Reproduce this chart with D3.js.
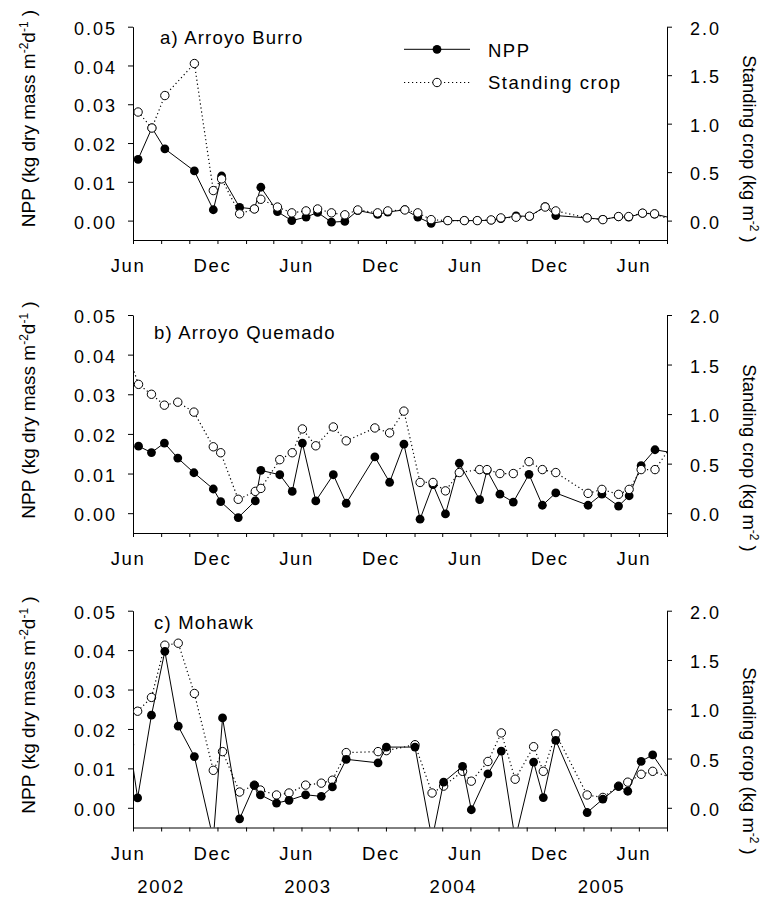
<!DOCTYPE html>
<html><head><meta charset="utf-8">
<script src="https://cdn.jsdelivr.net/npm/d3@7"></script>
<style>
body{margin:0;background:#fff}
svg{display:block}
text{font-family:"Liberation Sans",Arial,Helvetica,sans-serif;fill:#000}
</style>
</head><body>
<svg id="chart" width="770" height="898"></svg>
<script>
// ---------------- DATA ----------------
// a) Arroyo Burro
const datesA = ["2002-06-12","2002-07-12","2002-08-09","2002-10-12","2002-11-22","2002-12-10","2003-01-18","2003-02-19","2003-03-05","2003-04-10","2003-05-11","2003-06-11","2003-07-06","2003-08-05","2003-09-03","2003-10-01","2003-11-13","2003-12-05","2004-01-11","2004-02-08","2004-03-08","2004-04-13","2004-05-19","2004-06-16","2004-07-16","2004-08-06","2004-09-08","2004-10-07","2004-11-10","2004-12-03","2005-02-09","2005-03-15","2005-04-18","2005-05-10","2005-06-09","2005-07-05","2005-08-20"];
const nppA = [0.0158,0.0239,0.0185,0.0128,0.0028,0.0115,0.0034,0.0030,0.0086,0.0023,0.0000,0.0009,0.0021,-0.0004,-0.0002,0.0026,0.0016,0.0022,0.0028,0.0009,-0.0007,0.0000,0.0000,0.0000,0.0001,0.0005,0.0012,0.0011,0.0036,0.0013,0.0007,0.0003,0.0010,0.0009,0.0019,0.0017,0.0004];
const scA = [1.12,0.955,1.29,1.62,0.31,0.43,0.07,0.12,0.22,0.14,0.08,0.10,0.12,0.08,0.06,0.11,0.08,0.10,0.11,0.08,0.01,0.00,0.00,0.00,0.007,0.028,0.035,0.046,0.14,0.10,0.028,0.01,0.042,0.042,0.077,0.07,-0.01];

// b) Arroyo Quemado
const datesB = ["2002-05-20","2002-06-13","2002-07-11","2002-08-08","2002-09-06","2002-10-11","2002-11-22","2002-12-08","2003-01-15","2003-02-21","2003-03-05","2003-04-15","2003-05-12","2003-06-03","2003-07-02","2003-08-09","2003-09-06","2003-11-07","2003-12-09","2004-01-09","2004-02-13","2004-03-12","2004-04-08","2004-05-08","2004-06-21","2004-07-07","2004-08-04","2004-09-02","2004-10-06","2004-11-04","2004-12-03","2005-02-11","2005-03-13","2005-04-18","2005-05-11","2005-06-06","2005-07-06","2005-08-15"];
const nppB = [null,0.0169,0.0153,0.0177,0.0139,0.0102,0.0061,0.0029,-0.0011,0.0031,0.0108,0.0097,0.0055,0.0177,0.0031,0.0097,0.0025,0.0142,0.0078,0.0174,-0.0015,0.0072,-0.0002,0.0126,0.0034,0.0108,0.0048,0.0028,0.0098,0.0020,0.0051,0.0020,0.0048,0.0018,0.0044,0.0120,0.0160,0.0152];
const scB = [1.62,1.30,1.20,1.09,1.12,1.02,0.67,0.61,0.14,0.22,0.25,0.54,0.61,0.85,0.68,0.87,0.73,0.86,0.81,1.03,0.31,0.31,0.225,0.41,0.44,0.44,0.40,0.40,0.52,0.44,0.41,0.20,0.24,0.19,0.24,0.44,0.44,0.71];

// c) Mohawk
const datesC = ["2002-05-25","2002-06-11","2002-07-11","2002-08-09","2002-09-07","2002-10-12","2002-11-22","2002-12-12","2003-01-18","2003-02-19","2003-03-04","2003-04-08","2003-05-05","2003-06-10","2003-07-14","2003-08-07","2003-09-06","2003-11-14","2003-12-02","2004-02-02","2004-03-10","2004-04-04","2004-05-15","2004-06-03","2004-07-09","2004-08-07","2004-09-06","2004-10-16","2004-11-06","2004-12-03","2005-02-09","2005-03-15","2005-04-18","2005-05-08","2005-06-06","2005-07-01","2005-08-15"];
const nppC = [0.016,0.0025,0.0235,0.0397,0.0207,0.0130,-0.008,0.0228,-0.0028,0.0057,0.0033,0.0012,0.0019,0.0033,0.0029,0.0053,0.0123,0.0114,0.0154,0.0154,-0.008,0.0065,0.0105,-0.0005,0.0086,0.0144,-0.008,0.0116,0.0026,0.0171,-0.0012,0.0022,0.0054,0.0042,0.0118,0.0134,0.0057];
const scC = [null,0.98,1.12,1.65,1.67,1.16,0.38,0.57,0.16,0.23,0.18,0.13,0.15,0.23,0.25,0.28,0.56,0.57,0.58,0.64,0.15,0.22,0.37,0.27,0.47,0.76,0.29,0.62,0.37,0.75,0.13,0.105,0.22,0.26,0.34,0.37,0.30];

const panelNames = ["a) Arroyo Burro","b) Arroyo Quemado","c) Mohawk"];
const nppTicks = [0,0.01,0.02,0.03,0.04,0.05];
const scTicks = [0,0.5,1.0,1.5,2.0];
const xDomain = ["2002-06-01","2005-08-01"];
const monthLabels = {5:"Jun",11:"Dec"};
const yearLabels = ["2002","2003","2004","2005"];
const yearLabelDates = ["2002-08-01","2003-06-15","2004-04-25","2005-03-12"];
const legendLabels = ["NPP","Standing crop"];

// ---------------- LAYOUT ----------------
const parse = d3.timeParse("%Y-%m-%d");
const svg = d3.select("#chart");
const defs = svg.append("defs");
const X0 = 133, X1 = 667;
const x = d3.scaleTime().domain(xDomain.map(parse)).range([X0, X1]);
const monthTicks = d3.timeMonth.range(parse("2002-06-01"), d3.timeDay.offset(parse("2005-08-01"),1))
  .filter(d => d.getMonth() % 2 === 1);

const layout = [
  {top:26.7, bottom:240, label:[160,43.5], ltitle:118.5, rtitle:149, npOnTop:false},
  {top:315, bottom:533, label:[154,339], ltitle:410, rtitle:458, npOnTop:false},
  {top:610.7, bottom:827.5, label:[154,628.5], ltitle:705, rtitle:761, npOnTop:true}
];
const series = [[datesA,nppA,scA],[datesB,nppB,scB],[datesC,nppC,scC]];

const TICKFS = 18, TICKLS = 2;

layout.forEach((p, i) => {
  const [ds, np, sc] = series[i];
  const pts = ds.map((d, k) => ({date: parse(d), npp: np[k], sc: sc[k]}));
  const yL = d3.scaleLinear().domain([-0.005, 0.05]).range([p.bottom, p.top]);
  const yR = d3.scaleLinear().domain([-0.2, 2.0]).range([p.bottom, p.top]);
  const g = svg.append("g");

  defs.append("clipPath").attr("id", "clip" + i)
    .append("rect").attr("x", X0).attr("y", p.top - 20)
    .attr("width", X1 - X0).attr("height", p.bottom - p.top + 20);

  // axes
  const ax = d3.axisLeft(yL).tickValues(nppTicks).tickSize(5).tickSizeOuter(0).tickPadding(11).tickFormat(d3.format(".2f"));
  const gl = g.append("g").attr("transform", `translate(${X0},0)`).call(ax);
  const ar = d3.axisRight(yR).tickValues(scTicks).tickSize(5).tickSizeOuter(0).tickPadding(18).tickFormat(d3.format(".1f"));
  const gr = g.append("g").attr("transform", `translate(${X1},0)`).call(ar);
  [gl, gr].forEach(a => {
    a.selectAll("text").attr("dy", "0.42em").style("font-size", TICKFS + "px").style("letter-spacing", TICKLS + "px");
  });
  const ab = d3.axisBottom(x).tickValues(monthTicks).tickSize(4).tickSizeOuter(0)
    .tickFormat(d => monthLabels[d.getMonth()] || "");
  const gb = g.append("g").attr("transform", `translate(0,${p.bottom})`).call(ab);
  gb.selectAll("text").attr("y", 32).attr("dy", 0).attr("dx", -5.5)
    .style("font-size", "18.5px").style("letter-spacing", "1.6px");
  g.selectAll(".domain, .tick line").attr("stroke", "#000").attr("stroke-width", 1);
  g.selectAll(".tick text").attr("fill", "#000").attr("font-family", null);
  g.selectAll("g").attr("font-family", null).attr("font-size", null);

  // data
  const plot = g.append("g").attr("clip-path", `url(#clip${i})`);
  const lineN = d3.line().defined(d => d.npp != null).x(d => x(d.date)).y(d => yL(d.npp));
  const lineS = d3.line().defined(d => d.sc != null).x(d => x(d.date)).y(d => yR(d.sc));
  const drawN = () => {
    plot.append("path").datum(pts).attr("d", lineN).attr("fill", "none").attr("stroke", "#000").attr("stroke-width", 1);
    plot.append("g").selectAll("circle").data(pts.filter(d => d.npp != null)).join("circle")
      .attr("cx", d => x(d.date)).attr("cy", d => yL(d.npp)).attr("r", 4.4).attr("fill", "#000");
  };
  const drawS = () => {
    plot.append("path").datum(pts).attr("d", lineS).attr("fill", "none").attr("stroke", "#000")
      .attr("stroke-width", 1.2).attr("stroke-dasharray", "1.2,2.8");
    plot.append("g").selectAll("circle").data(pts.filter(d => d.sc != null)).join("circle")
      .attr("cx", d => x(d.date)).attr("cy", d => yR(d.sc)).attr("r", 4.2)
      .attr("fill", "#fff").attr("stroke", "#000").attr("stroke-width", 1);
  };
  if (p.npOnTop) { drawS(); drawN(); } else { drawN(); drawS(); }

  // panel label
  g.append("text").attr("x", p.label[0]).attr("y", p.label[1])
    .style("font-size", "18.5px").style("letter-spacing", "1.2px").text(panelNames[i]);

  // left title
  const lt = g.append("text").attr("transform", `translate(35,${p.ltitle}) rotate(-90)`)
    .attr("text-anchor", "middle").style("font-size", "19px");
  lt.append("tspan").text("NPP (kg dry mass m");
  lt.append("tspan").attr("dy", -7).style("font-size", "12px").text("-2");
  lt.append("tspan").attr("dy", 7).text("d");
  lt.append("tspan").attr("dy", -7).style("font-size", "12px").text("-1");
  lt.append("tspan").attr("dy", 7).text(" )");

  // right title
  const rt = g.append("text").attr("transform", `translate(743,${p.rtitle}) rotate(90)`)
    .attr("text-anchor", "middle").style("font-size", "18.5px");
  rt.append("tspan").text("Standing crop (kg m");
  rt.append("tspan").attr("dy", -7).style("font-size", "12px").text("-2");
  rt.append("tspan").attr("dy", 7).text(" )");
});

// legend (in panel a)
const lg = svg.append("g");
const legRows = [{y:49.3, ty:56.5, type:"npp"}, {y:82.5, ty:88.5, type:"sc"}];
legRows.forEach((r, k) => {
  lg.append("line").attr("x1", 404).attr("x2", 470).attr("y1", r.y).attr("y2", r.y)
    .attr("stroke", "#000").attr("stroke-width", r.type === "npp" ? 1 : 1.2)
    .attr("stroke-dasharray", r.type === "npp" ? null : "1.2,2.8");
  lg.append("circle").attr("cx", 437).attr("cy", r.y).attr("r", r.type === "npp" ? 4.4 : 4.2)
    .attr("fill", r.type === "npp" ? "#000" : "#fff").attr("stroke", "#000").attr("stroke-width", r.type === "npp" ? 0 : 1);
  lg.append("text").attr("x", 488).attr("y", r.ty).style("font-size", "18.5px").style("letter-spacing", "1.5px").text(legendLabels[k]);
});

// year labels
svg.append("g").selectAll("text").data(yearLabels).join("text")
  .attr("x", (d, k) => x(parse(yearLabelDates[k]))).attr("y", 893)
  .attr("text-anchor", "middle").style("font-size", "18.5px").style("letter-spacing", "1.6px")
  .text(d => d);
</script>
</body></html>
